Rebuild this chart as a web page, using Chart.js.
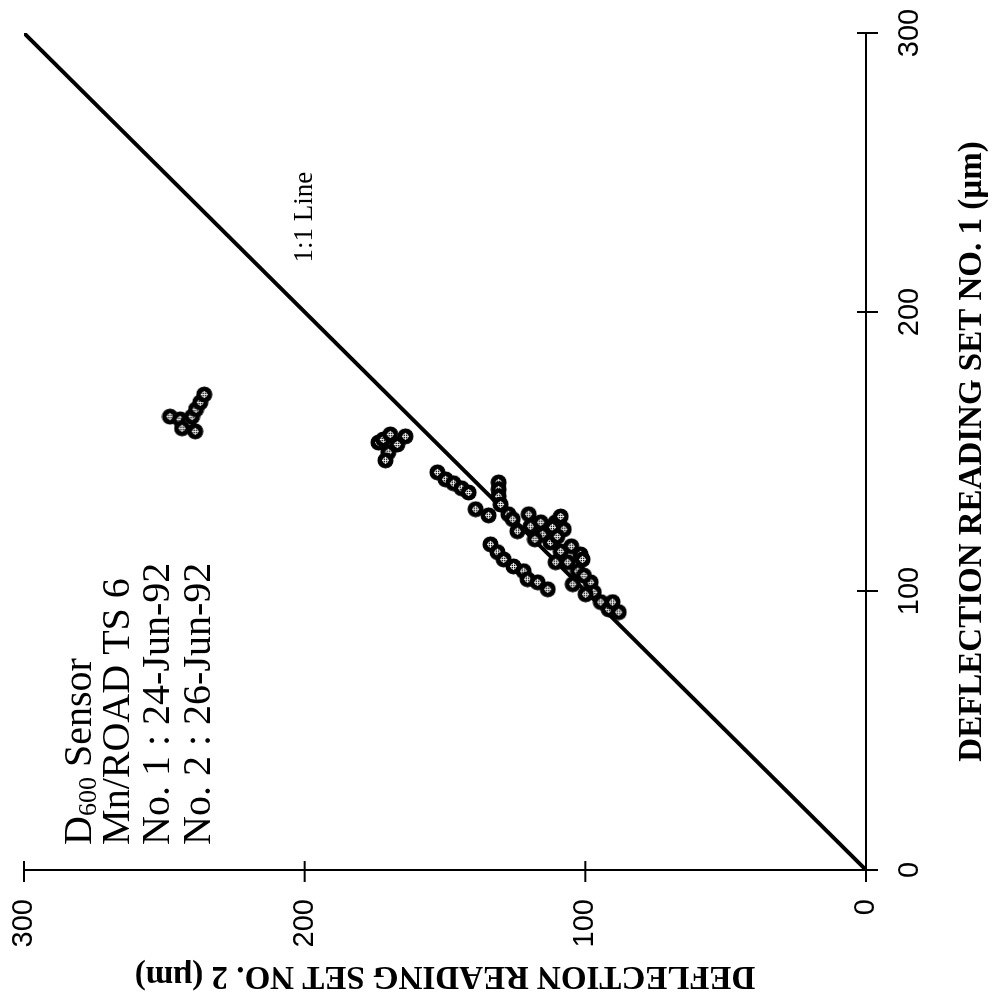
<!DOCTYPE html>
<html><head><meta charset="utf-8">
<script src="https://cdn.jsdelivr.net/npm/chart.js@4.4.1/dist/chart.umd.min.js"></script>
<style>
html,body{margin:0;padding:0;background:#fff;overflow:hidden;width:995px;height:1008px;}
#wrap{position:absolute;left:0;top:0;width:1008px;height:995px;transform-origin:0 0;transform:translate(0,1008px) rotate(-90deg);background:#fff;}
canvas{display:block}
</style></head><body>
<div id="wrap"><canvas id="c" width="1008" height="995"></canvas></div>
<script>
// Deflection readings (µm)
const set1 = [162.5,161.5,160.4,162.5,165.1,167.6,170.4,158.3,157.2,
  153.2,154.3,156.1,155.4,152.5,149.7,146.8,
  142.5,140.0,138.6,136.8,135.3,
  129.3,127.1,138.9,136.4,133.9,131.0,127.5,125.7,121.4,127.5,123.2,124.6,120.3,117.4,124.6,126.7,122.1,114.2,122.8,113.1,107.1,110.3,110.3,103.1,99.5,96.0,93.4,92.4,102.4,98.8,96.0,111.3,
  116.7,113.9,111.3,108.8,107.1,104.2,103.1,100.6,
  118.5,116.0,105.5,119.5];
const set2 = [248.0,244.4,241.5,240.1,238.7,237.2,235.8,243.7,239.0,
  173.7,172.0,169.5,164.1,167.0,170.2,171.2,
  152.7,149.8,147.0,144.1,141.6,
  139.1,134.5,130.9,130.9,130.9,130.2,127.4,125.9,124.2,120.2,119.5,115.9,115.2,112.4,110.6,108.8,107.7,108.8,111.7,101.7,102.7,106.3,110.6,98.1,97.0,94.5,91.7,88.1,104.5,99.9,90.3,101.0,
  133.8,131.3,129.1,125.6,122.0,120.6,117.0,113.4,
  118.0,105.0,100.5,110.0];
const oneToOneX = [0, 300];
const oneToOneY = [0, 300];
const tickValues = [0, 100, 200, 300];
const xTitle = 'DEFLECTION READING SET NO. 1 (\u00b5m)';
const yTitle = 'DEFLECTION READING SET NO. 2 (\u00b5m)';
const infoLines = ['Mn/ROAD TS 6', 'No. 1 : 24-Jun-92', 'No. 2 : 26-Jun-92'];
const lineLabel = '1:1 Line';

// marker: black disc with small white crosshair
function makeMarker(){
  const c = document.createElement('canvas');
  c.width = 17; c.height = 17;
  const g = c.getContext('2d');
  g.fillStyle = '#000';
  g.beginPath(); g.arc(8.5,8.5,8,0,Math.PI*2); g.fill();
  g.strokeStyle = '#fff'; g.lineWidth = 0.9;
  g.beginPath(); g.arc(8.5,8.5,2.6,0,Math.PI*2); g.stroke();
  g.beginPath(); g.moveTo(8.5,5); g.lineTo(8.5,12); g.moveTo(5,8.5); g.lineTo(12,8.5); g.stroke();
  return c;
}
const marker = makeMarker();

const crossTicks = {
  id:'crossTicks',
  afterDraw(chart){
    const ctx = chart.ctx, xs = chart.scales.x, ys = chart.scales.y;
    ctx.save(); ctx.strokeStyle='#000'; ctx.lineWidth=2;
    xs.ticks.forEach(t=>{ const p = xs.getPixelForValue(t.value);
      ctx.beginPath(); ctx.moveTo(p, xs.top-9); ctx.lineTo(p, xs.top+12); ctx.stroke(); });
    ys.ticks.forEach(t=>{ const p = ys.getPixelForValue(t.value);
      ctx.beginPath(); ctx.moveTo(ys.right-12, p); ctx.lineTo(ys.right+9, p); ctx.stroke(); });
    ctx.restore();
  }
};
const serif = '"Liberation Serif", "Times New Roman", serif';
const notes = {
  id:'notes',
  afterDatasetsDraw(chart){
    const ctx = chart.ctx, xs = chart.scales.x, ys = chart.scales.y;
    ctx.save(); ctx.fillStyle='#000'; ctx.textBaseline='middle'; ctx.textAlign='left';
    const left = xs.getPixelForValue(9);
    const rows = [280, 266.5, 252.2, 237.3];
    let y0 = ys.getPixelForValue(rows[0]);
    ctx.font = '40px ' + serif;
    ctx.fillText('D', left, y0);
    let w = ctx.measureText('D').width;
    ctx.font = '26px ' + serif;
    ctx.fillText('600', left + w, y0 + 9);
    w += ctx.measureText('600').width;
    ctx.font = '40px ' + serif;
    ctx.fillText(' Sensor', left + w, y0);
    infoLines.forEach((s,i)=>{ ctx.fillText(s, left, ys.getPixelForValue(rows[i+1])); });
    ctx.font = '27px ' + serif;
    ctx.textAlign='center';
    ctx.fillText(lineLabel, xs.getPixelForValue(234), ys.getPixelForValue(200));
    ctx.restore();
  }
};
function noPad(s){ s.paddingTop=0; s.paddingBottom=0; s.paddingLeft=0; s.paddingRight=0; }

new Chart(document.getElementById('c'), {
  type:'scatter',
  data:{ datasets:[
    { label:'readings', data: set1.map((v,i)=>({x:v, y:set2[i]})), pointStyle: marker, pointRadius: 8, order: 1 },
    { label:'1:1 Line', data: oneToOneX.map((v,i)=>({x:v, y:oneToOneY[i]})), showLine:true, borderColor:'#000', borderWidth:4, pointRadius:0, order: 2 }
  ]},
  options:{
    responsive:false, animation:false, devicePixelRatio:1,
    layout:{ padding:{ top:24, right:33, left:0, bottom:0 } },
    plugins:{ legend:{display:false}, tooltip:{enabled:false} },
    scales:{
      x:{ type:'linear', min:0, max:300,
        afterBuildTicks(s){ s.ticks = tickValues.map(v=>({value:v})); },
        afterFit(s){ s.height = 129; noPad(s); },
        grid:{ display:false, drawTicks:false },
        border:{ display:true, color:'#000', width:2 },
        ticks:{ padding:27, color:'#000', font:{ family:'"Liberation Sans", Arial, sans-serif', size:29 }, maxRotation:0 },
        title:{ display:true, text:xTitle, color:'#000', padding:{top:0,bottom:3}, font:{ family:serif, size:33, weight:'bold' } }
      },
      y:{ type:'linear', min:0, max:300,
        afterBuildTicks(s){ s.ticks = tickValues.map(v=>({value:v})); },
        afterFit(s){ s.width = 138; noPad(s); },
        grid:{ display:false, drawTicks:false },
        border:{ display:true, color:'#000', width:2 },
        ticks:{ padding:29, color:'#000', font:{ family:'"Liberation Sans", Arial, sans-serif', size:29 } },
        title:{ display:true, text:yTitle, color:'#000', padding:{top:13,bottom:0}, font:{ family:serif, size:33, weight:'bold' } }
      }
    }
  },
  plugins:[crossTicks, notes]
});
</script>
</body></html>
